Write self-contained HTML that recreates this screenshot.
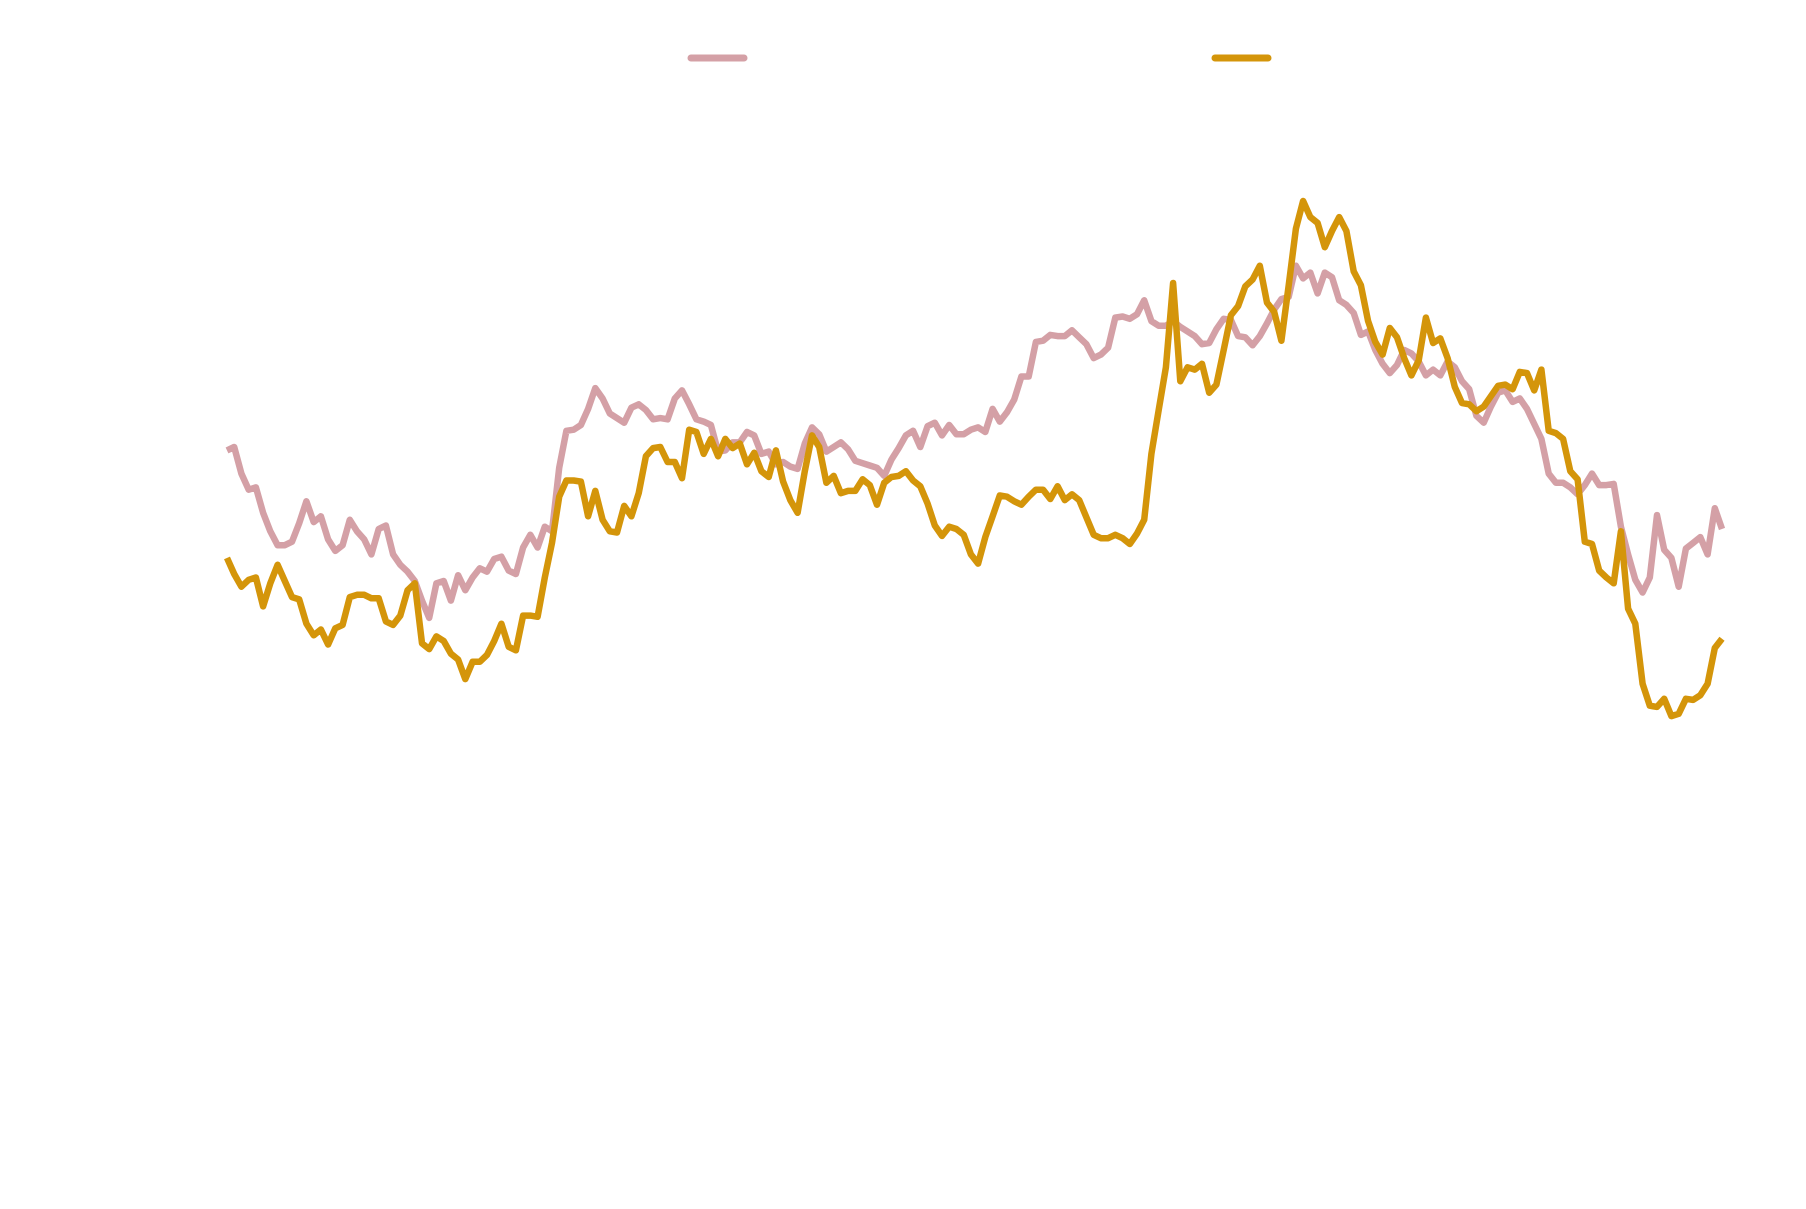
<!DOCTYPE html>
<html>
<head>
<meta charset="utf-8">
<style>
  html, body { margin: 0; padding: 0; background: #ffffff; }
  body { width: 1806px; height: 1209px; overflow: hidden; font-family: "Liberation Sans", sans-serif; }
  svg { display: block; }
</style>
</head>
<body>
<svg id="chart" width="1806" height="1209" viewBox="0 0 1806 1209" xmlns="http://www.w3.org/2000/svg">
  <rect x="0" y="0" width="1806" height="1209" fill="#ffffff"/>
  <g id="legend">
    <line x1="691" y1="58" x2="744" y2="58" stroke="#d4a0a6" stroke-width="7" stroke-linecap="round"/>
    <line x1="1215" y1="58" x2="1268" y2="58" stroke="#d4950a" stroke-width="7" stroke-linecap="round"/>
  </g>
  <g id="series"></g>
</svg>
<script>
const pinkValues = [610,613,590,576,578,556,540,528,528,531,547,566,548,553,533,523,528,550,540,533,520,542,545,520,511,505,497,480,465,495,497,480,502,489,500,508,505,516,518,506,503,526,537,526,544,540,595,627,628,632,646,664,655,642,638,634,647,650,645,637,638,637,655,662,650,637,635,632,609,610,617,617,626,623,607,609,598,600,596,594,616,630,624,609,613,617,611,601,599,597,595,588,602,612,623,627,613,631,634,623,632,624,624,628,630,626,646,635,643,654,674,674,704,705,710,709,709,714,708,702,690,693,699,725,726,724,728,740,722,718,718,722,717,713,709,702,703,715,724,723,709,708,701,709,720,732,741,743,770,759,764,746,764,760,740,736,729,710,713,697,685,677,684,697,694,687,675,680,675,687,682,670,663,640,634,648,660,662,652,655,646,633,620,590,582,582,578,572,580,590,580,580,581,544,520,498,487,500,554,524,517,492,525,530,535,520,560,542];
const goldValues = [517,503,492,498,500,475,495,511,497,483,481,460,450,455,442,456,459,483,485,485,482,482,462,459,467,489,495,443,438,449,445,434,429,412,427,427,433,445,460,440,437,467,467,466,500,530,570,584,584,583,553,575,550,540,539,562,553,573,605,612,613,600,600,586,628,626,607,620,605,620,612,616,598,608,592,587,610,583,567,556,592,623,613,582,588,573,575,575,585,580,563,582,587,588,592,584,579,564,545,536,544,542,537,520,512,535,553,571,570,566,563,570,576,576,568,579,567,572,567,552,537,534,534,537,534,529,538,550,607,645,682,755,670,682,680,685,660,667,697,727,735,752,758,770,738,730,705,753,802,826,812,807,786,800,812,800,765,753,722,704,693,716,708,690,675,688,725,703,707,690,665,651,650,644,648,657,666,667,663,678,677,662,680,627,625,620,592,585,531,529,506,500,495,540,473,460,408,389,388,395,380,382,395,394,398,408,439,447];
const seriesNames = ["pink-series", "gold-series"];

const X0 = 227, X1 = 1722;
function xScale(i, n) { return X0 + (i / (n - 1)) * (X1 - X0); }
function yScale(v) { return (1000 - v) * 1.155; }

const g = document.getElementById('series');
const NS = 'http://www.w3.org/2000/svg';
function drawLine(values, color, name) {
  const n = values.length;
  const d = values.map((v, i) => (i ? 'L' : 'M') + xScale(i, n).toFixed(1) + ' ' + yScale(v).toFixed(1)).join(' ');
  const p = document.createElementNS(NS, 'path');
  p.setAttribute('d', d);
  p.setAttribute('fill', 'none');
  p.setAttribute('stroke', color);
  p.setAttribute('stroke-width', '6.5');
  p.setAttribute('stroke-linejoin', 'round');
  p.setAttribute('stroke-linecap', 'butt');
  
  
  g.appendChild(p);
}
drawLine(pinkValues, '#d4a0a6', seriesNames[0]);
drawLine(goldValues, '#d4950a', seriesNames[1]);
</script>
</body>
</html>
